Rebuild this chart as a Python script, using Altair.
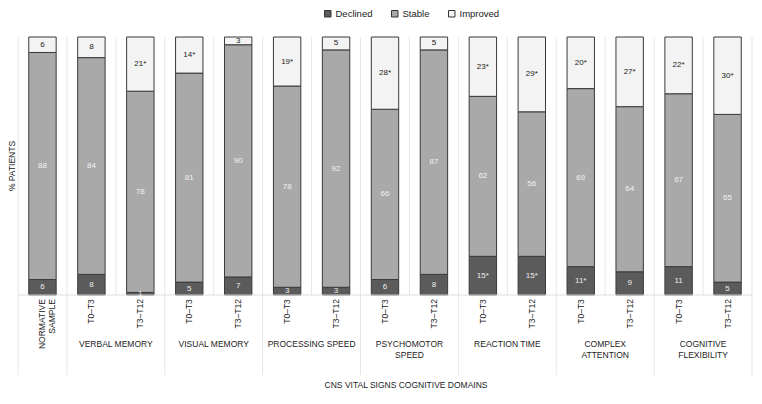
import altair as alt
import pandas as pd

FONT = "Liberation Sans"

# ---- data ----
bar_labels = ["NORMATIVE\nSAMPLE",
              "T0–T3", "T3–T12", "T0–T3", "T3–T12", "T0–T3", "T3–T12",
              "T0–T3", "T3–T12", "T0–T3", "T3–T12", "T0–T3", "T3–T12",
              "T0–T3", "T3–T12"]
group_names = ["", "VERBAL MEMORY", "VISUAL MEMORY", "PROCESSING SPEED",
               "PSYCHOMOTOR\nSPEED", "REACTION TIME", "COMPLEX\nATTENTION",
               "COGNITIVE\nFLEXIBILITY"]
group_sizes = [1, 2, 2, 2, 2, 2, 2, 2]
x_title = "CNS VITAL SIGNS COGNITIVE DOMAINS"
y_title = "% PATIENTS"

categories = ["Declined", "Stable", "Improved"]
declined = [6, 8, 1, 5, 7, 3, 3, 6, 8, 15, 15, 11, 9, 11, 5]
stable = [88, 84, 78, 81, 90, 78, 92, 66, 87, 62, 56, 69, 64, 67, 65]
improved = [6, 8, 21, 14, 3, 19, 5, 28, 5, 23, 29, 20, 27, 22, 30]
declined_sig = [0, 0, 0, 0, 0, 0, 0, 0, 0, 1, 1, 1, 0, 0, 0]
stable_sig = [0] * 15
improved_sig = [0, 0, 1, 1, 0, 1, 0, 1, 0, 1, 1, 1, 1, 1, 1]

fills = ["#5b5b5b", "#a9a9a9", "#f3f3f3"]
text_colors = ["#eeeeee", "#f2f2f2", "#222222"]

n = len(bar_labels)
YMIN = -31.0

# ---- tables ----
rows = []
for i in range(n):
    base = 0
    for c, vals, sig, tc in zip(categories, [declined, stable, improved],
                                [declined_sig, stable_sig, improved_sig], text_colors):
        v = vals[i]
        rows.append(dict(cat=c, order=categories.index(c), xa=i + 0.22, xb=i + 0.78,
                         xm=i + 0.5, y0=base, y1=base + v, ym=base + v / 2,
                         label=f"{v}{'*' if sig[i] else ''}", tcolor=tc))
        base += v
bars = pd.DataFrame(rows)

ticks_df = pd.DataFrame(dict(xm=[i + 0.5 for i in range(n)], label=bar_labels,
                             y=[-1.6] * n))
norm_df = ticks_df.iloc[:1]
per_df = ticks_df.iloc[1:]

bounds = [0]
for s in group_sizes:
    bounds.append(bounds[-1] + s)
grp_df = pd.DataFrame(dict(xm=[(bounds[k] + bounds[k + 1]) / 2 for k in range(len(group_sizes))],
                           name=group_names, y=[-18.9] * len(group_sizes)))
grp_df = grp_df[grp_df["name"] != ""]

xt_df = pd.DataFrame(dict(x=[7.93], y=[YMIN - 3.9], t=[x_title]))
yt_df = pd.DataFrame(dict(x=[-0.125], y=[50], t=[y_title]))

vgrid = pd.DataFrame(dict(x=list(range(n + 1)), y0=[0] * (n + 1), y1=[100] * (n + 1)))
seps = pd.DataFrame(dict(x=bounds, y0=[YMIN] * len(bounds), y1=[0] * len(bounds)))
hline = pd.DataFrame(dict(x0=[0], x1=[n], y=[0]))

xs = alt.Scale(domain=[0, n], nice=False, zero=False)
ys = alt.Scale(domain=[YMIN, 100], nice=False, zero=False)

grid_layer = alt.Chart(vgrid).mark_rule(color="#e6e6e6", strokeWidth=1).encode(
    x=alt.X("x:Q", scale=xs, axis=None),
    y=alt.Y("y0:Q", scale=ys, axis=None), y2="y1:Q")
sep_layer = alt.Chart(seps).mark_rule(color="#e6e6e6", strokeWidth=1).encode(
    x=alt.X("x:Q", scale=xs, axis=None),
    y=alt.Y("y0:Q", scale=ys, axis=None), y2="y1:Q")
h_layer = alt.Chart(hline).mark_rule(color="#dddddd", strokeWidth=1).encode(
    x=alt.X("x0:Q", scale=xs, axis=None), x2="x1:Q",
    y=alt.Y("y:Q", scale=ys, axis=None))

bar_layer = alt.Chart(bars).mark_bar(stroke="#3a3a3a", strokeWidth=1).encode(
    x=alt.X("xa:Q", scale=xs, axis=None),
    x2="xb:Q",
    y=alt.Y("y0:Q", scale=ys, axis=None),
    y2="y1:Q",
    color=alt.Color("cat:N", title=None,
                    scale=alt.Scale(domain=categories, range=fills),
                    legend=alt.Legend(orient="none", legendX=305, legendY=-28,
                                      direction="horizontal", symbolType="square",
                                      symbolSize=42, symbolStrokeColor="#333333",
                                      symbolStrokeWidth=1, labelFont=FONT,
                                      labelFontSize=9.5, labelColor="#222222",
                                      columnPadding=16, labelOffset=3)),
    order=alt.Order("order:Q"))

val_layer = alt.Chart(bars).mark_text(font=FONT, fontSize=8, baseline="middle",
                                      align="center").encode(
    x=alt.X("xm:Q", scale=xs, axis=None),
    y=alt.Y("ym:Q", scale=ys, axis=None),
    text="label:N",
    color=alt.Color("tcolor:N", scale=None, legend=None))

norm_layer = alt.Chart(norm_df).mark_text(font=FONT, fontSize=8.5, angle=270, align="right",
                                          baseline="middle", lineBreak="\n",
                                          lineHeight=10, color="#222222").encode(
    x=alt.X("xm:Q", scale=xs, axis=None),
    y=alt.Y("y:Q", scale=ys, axis=None),
    text="label:N")
per_layer = alt.Chart(per_df).mark_text(font=FONT, fontSize=8.5, angle=270, align="right",
                                        baseline="middle", color="#222222").encode(
    x=alt.X("xm:Q", scale=xs, axis=None),
    y=alt.Y("y:Q", scale=ys, axis=None),
    text="label:N")
grp_layer = alt.Chart(grp_df).mark_text(font=FONT, fontSize=8.5, align="center",
                                        baseline="middle", lineBreak="\n",
                                        lineHeight=11.5, color="#222222").encode(
    x=alt.X("xm:Q", scale=xs, axis=None),
    y=alt.Y("y:Q", scale=ys, axis=None),
    text="name:N")
xt_layer = alt.Chart(xt_df).mark_text(font=FONT, fontSize=8.5, align="center",
                                      baseline="middle", color="#222222").encode(
    x=alt.X("x:Q", scale=xs, axis=None),
    y=alt.Y("y:Q", scale=ys, axis=None),
    text="t:N")
yt_layer = alt.Chart(yt_df).mark_text(font=FONT, fontSize=8.5, align="center", angle=270,
                                      baseline="middle", color="#222222").encode(
    x=alt.X("x:Q", scale=xs, axis=None),
    y=alt.Y("y:Q", scale=ys, axis=None),
    text="t:N")

chart = alt.layer(bar_layer, grid_layer, sep_layer, h_layer, val_layer,
                  norm_layer, per_layer, grp_layer, xt_layer, yt_layer).properties(
    width=734, height=338,
    autosize=alt.AutoSizeParams(type="none"),
    padding={"left": 10, "top": 29, "right": 1, "bottom": 15},
    background="white",
).configure_view(stroke=None)

chart.save("out.html", embed_options={"renderer": "svg", "actions": False})
